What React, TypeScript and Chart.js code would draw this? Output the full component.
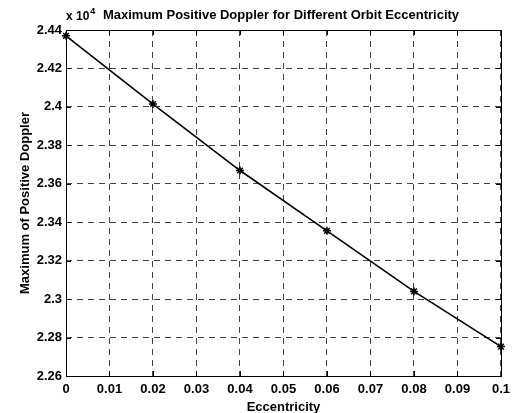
import React, { useEffect, useRef } from "react";
import { Chart, registerables } from "chart.js";

Chart.register(...registerables);

const eccentricity = [0, 0.02, 0.04, 0.06, 0.08, 0.1];
const maxDoppler = [2.437, 2.4015, 2.3669, 2.3355, 2.304, 2.2753]; // x 10^4
const xTickLabels = ["0", "0.01", "0.02", "0.03", "0.04", "0.05", "0.06", "0.07", "0.08", "0.09", "0.1"];
const yTickLabels = ["2.26", "2.28", "2.3", "2.32", "2.34", "2.36", "2.38", "2.4", "2.42", "2.44"];

const titleText = "Maximum Positive Doppler for Different Orbit Eccentricity";
const xTitle = "Eccentricity";
const yTitle = "Maximum of Positive Doppler";
const FONT = "Liberation Sans, Arial, Helvetica, sans-serif";

const decorPlugin = {
  id: "decor",
  afterDraw(chart: any) {
    const ctx = chart.ctx as CanvasRenderingContext2D;
    const a = chart.chartArea;
    const xs = chart.scales.x;
    const ys = chart.scales.y;
    ctx.save();
    ctx.strokeStyle = "#000";
    ctx.lineWidth = 1;
    ctx.setLineDash([]);
    ctx.strokeRect(Math.round(a.left) + 0.5, Math.round(a.top) + 0.5, Math.round(a.right - a.left), Math.round(a.bottom - a.top));
    const tl = 5;
    ctx.beginPath();
    xs.ticks.forEach((t: any) => {
      const x = Math.round(xs.getPixelForValue(t.value)) + 0.5;
      ctx.moveTo(x, a.bottom);
      ctx.lineTo(x, a.bottom - tl);
      ctx.moveTo(x, a.top);
      ctx.lineTo(x, a.top + tl);
    });
    ys.ticks.forEach((t: any) => {
      const y = Math.round(ys.getPixelForValue(t.value)) + 0.5;
      ctx.moveTo(a.left, y);
      ctx.lineTo(a.left + tl, y);
      ctx.moveTo(a.right, y);
      ctx.lineTo(a.right - tl, y);
    });
    ctx.stroke();
    ctx.fillStyle = "#000";
    ctx.font = `bold 13px ${FONT}`;
    ctx.textAlign = "left";
    ctx.textBaseline = "alphabetic";
    const titleW = ctx.measureText(titleText).width;
    ctx.fillText(titleText, 281 - titleW / 2, 19);
    ctx.font = `bold 12px ${FONT}`;
    ctx.fillText("x 10", a.left, 20);
    const w = ctx.measureText("x 10").width;
    ctx.font = `bold 9px ${FONT}`;
    ctx.fillText("4", a.left + w + 1, 14);
    ctx.font = `bold 13px ${FONT}`;
    ctx.textAlign = "center";
    ctx.fillText(xTitle, (a.left + a.right) / 2, 411);
    ctx.translate(29, (a.top + a.bottom) / 2);
    ctx.rotate(-Math.PI / 2);
    ctx.fillText(yTitle, 0, 0);
    ctx.restore();
  },
};

export default function App() {
  const ref = useRef<HTMLCanvasElement>(null);
  useEffect(() => {
    document.body.style.margin = "0";
    const chart = new Chart(ref.current!, {
      type: "line",
      data: {
        datasets: [
          {
            data: eccentricity.map((x, i) => ({ x, y: maxDoppler[i] })),
            borderColor: "#000",
            borderWidth: 1.6,
            backgroundColor: "#000",
            pointStyle: "star",
            pointRadius: 4,
            pointBorderWidth: 1.5,
            pointBorderColor: "#000",
            tension: 0,
            fill: false,
            clip: false,
          },
        ],
      },
      options: {
        responsive: false,
        animation: false,
        layout: { padding: { top: 30, right: 9, left: 0, bottom: 0 } },
        plugins: { legend: { display: false }, title: { display: false }, tooltip: { enabled: false } },
        scales: {
          x: {
            type: "linear",
            min: 0,
            max: 0.1,
            ticks: {
              stepSize: 0.01,
              autoSkip: false,
              maxRotation: 0,
              padding: 6,
              color: "#000",
              font: { family: FONT, size: 13, weight: "bold" },
              callback: (_v: any, i: number) => xTickLabels[i],
            },
            grid: { color: "#444", lineWidth: 1, drawTicks: false },
            border: { display: false, dash: [6, 5] },
            afterFit: (s: any) => { s.height = 37; },
          },
          y: {
            min: 2.26,
            max: 2.44,
            ticks: {
              stepSize: 0.02,
              autoSkip: false,
              padding: 4,
              color: "#000",
              font: { family: FONT, size: 13, weight: "bold" },
              callback: (_v: any, i: number) => yTickLabels[i],
            },
            grid: { color: "#444", lineWidth: 1, drawTicks: false },
            border: { display: false, dash: [6, 5] },
            afterFit: (s: any) => { s.width = 66; },
          },
        },
      } as any,
      plugins: [decorPlugin],
    });
    return () => chart.destroy();
  }, []);
  return (
    <div style={{ position: "fixed", left: 0, top: 0, width: 516, height: 413, background: "#fff" }}>
      <canvas ref={ref} width={516} height={413} style={{ width: 516, height: 413 }} />
    </div>
  );
}
